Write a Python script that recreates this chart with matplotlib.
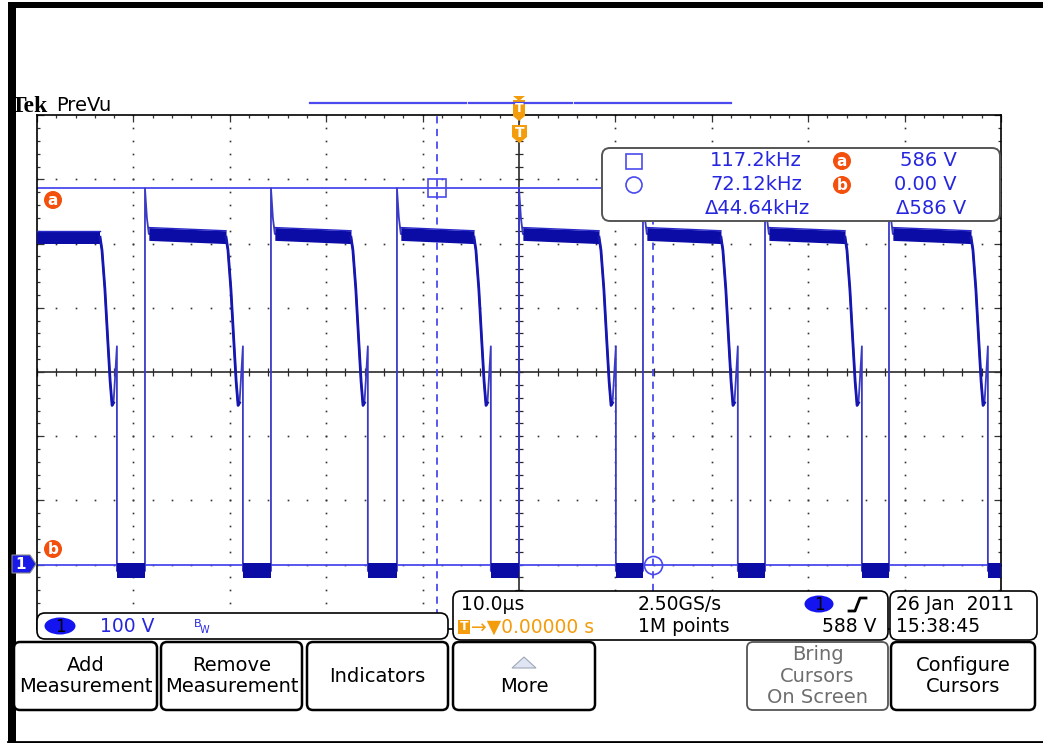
import numpy as np
import matplotlib
matplotlib.use("Agg")
import matplotlib.pyplot as plt
from matplotlib.patches import FancyBboxPatch, Polygon, Ellipse, Circle, Rectangle

W, H = 1043, 743

# scope settings (10 us/div, 100 V/div, trigger at centre, ground 3 div below centre)
t_lim = (-50.0, 50.0)
v_lim = (-100.0, 700.0)
t_div = 10.0
v_div = 100.0

# waveform (us / V)
rise_t = [-38.80, -25.73, -12.66, 0.0, 12.86, 25.52, 38.38]
fall_t = [-43.46, -30.39, -17.43, -4.67, 8.30, 20.95, 33.82, 46.89]
dip_dt = [0.0, 0.20, 0.50, 0.80, 1.05, 1.25, 1.40, 1.55, 1.75]
dip_v = [510, 490, 430, 350, 285, 248, 252, 290, 340]
spike_v = 586
ring_v = 540
plateau_v = (515, 510)      # start / end of flat top
bottom_v = -10
top_band = 10
bottom_band = (-21, 2)

# cursors
cursor_a_t, cursor_b_t = -8.533, 13.866
cursor_a_v, cursor_b_v = 586.0, 0.0

readout_rows = [("117.2kHz", "586 V"), ("72.12kHz", "0.00 V")]
readout_delta = ("\u039444.64kHz", "\u0394586 V")

buttons = [
    (14, 157, "Add\nMeasurement", "black"),
    (161, 302, "Remove\nMeasurement", "black"),
    (307, 448, "Indicators", "black"),
    (453, 595, "More", "black"),
    (747, 888, "Bring\nCursors\nOn Screen", "#6e6e6e"),
    (891, 1035, "Configure\nCursors", "black"),
]

BLUE = "#4a4aee"
TXT_BLUE = "#2626e0"
ORANGE = "#f39c0c"
RED_OR = "#f2500c"
TRACE = "#3a3ac4"
BAND = "#0b0ba6"

fig = plt.figure(figsize=(W / 100, H / 100), dpi=100)
fig.patch.set_facecolor("white")

# graticule area in pixels
gl, gr, gt, gb = 37, 1001, 115.2, 628.8
ax = fig.add_axes([gl / W, (H - gb) / H, (gr - gl) / W, (gb - gt) / H])
ax.set_xlim(*t_lim)
ax.set_ylim(*v_lim)
ax.set_facecolor("white")
for s in ax.spines.values():
    s.set_color("black")
    s.set_linewidth(1.2)
ax.set_xticks(np.arange(t_lim[0], t_lim[1] + 1, t_div))
ax.set_yticks(np.arange(v_lim[0], v_lim[1] + 1, v_div))
ax.set_xticks(np.arange(t_lim[0], t_lim[1] + 0.1, t_div / 5), minor=True)
ax.set_yticks(np.arange(v_lim[0], v_lim[1] + 0.1, v_div / 5), minor=True)
ax.tick_params(which="both", direction="in", top=True, right=True,
               labelbottom=False, labelleft=False, color="#333333", width=0.9)
ax.tick_params(which="major", length=5)
ax.tick_params(which="minor", length=2.5)

# dotted graticule
centre_t, centre_v = 0.0, 300.0
minor_t = np.arange(t_lim[0], t_lim[1] + 0.1, t_div / 5)
minor_v = np.arange(v_lim[0], v_lim[1] + 0.1, v_div / 5)
for gx in np.arange(t_lim[0] + t_div, t_lim[1], t_div):
    if gx != centre_t:
        ax.plot(np.full_like(minor_v, gx), minor_v, ls="none", marker="s",
                ms=1.2, color="#333333", mew=0)
for gy in np.arange(v_lim[0] + v_div, v_lim[1], v_div):
    if gy != centre_v:
        ax.plot(minor_t, np.full_like(minor_t, gy), ls="none", marker="s",
                ms=1.2, color="#333333", mew=0)
ax.axhline(centre_v, color="#2a2a2a", lw=1.2, zorder=1)
ax.axvline(centre_t, color="#2a2a2a", lw=1.2, zorder=1)
ax.plot(minor_t, np.full_like(minor_t, centre_v), ls="none", marker="|",
        ms=6, color="#2a2a2a", mew=0.9)
ax.plot(np.full_like(minor_v, centre_t), minor_v, ls="none", marker="_",
        ms=6, color="#2a2a2a", mew=0.9)

# cursors
ax.axhline(cursor_a_v, color=BLUE, lw=1.3, zorder=2)
ax.axhline(cursor_b_v, color=BLUE, lw=1.3, zorder=2)
ax.axvline(cursor_a_t, color=BLUE, lw=1.3, ls=(0, (4, 3)), zorder=2)
ax.axvline(cursor_b_t, color=BLUE, lw=1.3, ls=(0, (4, 3)), zorder=2,
           ymax=(gb - 222) / (gb - gt))
ax.plot([cursor_a_t], [cursor_a_v], marker="s", ms=13, mfc="none",
        mec=BLUE, mew=1.2, zorder=6)
ax.plot([cursor_b_t], [cursor_b_v], marker="o", ms=13, mfc="none",
        mec=BLUE, mew=1.2, zorder=6)

# build the trace
tt = [t_lim[0]]
vv = [plateau_v[1]]
plateaus = [(t_lim[0], fall_t[0])]
bottoms = []
dips = []
for i, f in enumerate(fall_t):
    dt = [f + d for d in dip_dt]
    dips.append((dt, dip_v))
    tt += dt
    vv += dip_v
    d_end = dt[-1]
    tt.append(d_end)
    vv.append(bottom_v)
    if i < len(rise_t):
        r = rise_t[i]
        bottoms.append((d_end, r))
        tt += [r, r, r + 0.2, r + 0.4]
        vv += [bottom_v, spike_v, ring_v, plateau_v[0]]
        plateaus.append((r + 0.4, fall_t[i + 1]))
    else:
        bottoms.append((d_end, t_lim[1]))
        tt.append(t_lim[1])
        vv.append(bottom_v)

ax.plot(tt, vv, color=TRACE, lw=1.3, zorder=3)
for a, b in plateaus:
    x = np.array([a, b])
    lvl = np.array(plateau_v) if a > t_lim[0] else np.array([plateau_v[1]] * 2)
    ax.fill_between(x, lvl - top_band, lvl + top_band, color=BAND, lw=0, zorder=4)
    ax.plot(x, lvl + top_band, color="#2828c8", lw=1, zorder=4)
for a, b in bottoms:
    ax.fill_between([a, b], [bottom_band[0]] * 2, [bottom_band[1]] * 2,
                    color=BAND, lw=0, zorder=4)
for dt, dv in dips:
    ax.plot(dt[:-2], dv[:-2], color="#1616b0", lw=2.0, zorder=4)

# ---------------- overlay: screen chrome ----------------
ui = fig.add_axes([0, 0, 1, 1], zorder=5)
ui.set_xlim(0, W)
ui.set_ylim(H, 0)
ui.axis("off")
ui.patch.set_alpha(0)


def rbox(x0, x1, y0, y1, ec="black", lw=1.6, r=6, fc="white"):
    ui.add_patch(FancyBboxPatch((x0, y0), x1 - x0, y1 - y0,
                                boxstyle=f"round,pad=0,rounding_size={r}",
                                fc=fc, ec=ec, lw=lw))


def badge(x, y, letter):
    ui.add_patch(Circle((x, y), 9, fc=RED_OR, ec="none"))
    ui.text(x, y + 0.5, letter, color="white", fontsize=11, fontweight="bold",
            ha="center", va="center")


# border
ui.add_patch(Rectangle((8, 2), W - 8, 6, fc="black", ec="none"))
ui.add_patch(Rectangle((8, 2), 8, 740, fc="black", ec="none"))
ui.plot([8, W], [741.5, 741.5], color="black", lw=2)

# Tek PreVu
ui.text(11, 112, "Tek", fontsize=17, fontweight="bold", family="Liberation Serif",
        ha="left", va="baseline")
ui.text(56, 111, "PreVu", fontsize=14, ha="left", va="baseline")

# record bar and trigger markers
for a, b in [(310, 466), (469, 572), (575, 731)]:
    ui.plot([a, b], [103, 103], color=BLUE, lw=1.6)
ui.add_patch(Polygon([[513, 96], [525, 96], [519, 101]], fc=ORANGE, ec="none"))
ui.add_patch(Polygon([[513, 100], [525, 100], [525, 116], [519, 121], [513, 116]],
                     fc=ORANGE, ec="none"))
ui.text(519, 109, "T", color="white", fontsize=9, fontweight="bold",
        ha="center", va="center")
ui.add_patch(Polygon([[512, 125], [527, 125], [527, 137], [519.5, 143], [512, 137]],
                     fc=ORANGE, ec="none"))
ui.text(519.5, 133, "T", color="white", fontsize=10, fontweight="bold",
        ha="center", va="center")

# cursor badges and ch1 ground marker
badge(53, 200, "a")
badge(53, 549, "b")
ui.add_patch(Polygon([[12, 555], [30, 555], [36, 564], [30, 573], [12, 573]],
                     fc="#1a1ae8", ec="#8a8a8a", lw=0.8))
ui.text(21, 564.5, "1", color="white", fontsize=11, fontweight="bold",
        ha="center", va="center")

# readout box
rbox(602, 1000, 148, 221, ec="#555555", lw=1.4, r=8)
ui.add_patch(Rectangle((626, 154), 16, 15, fc="none", ec=BLUE, lw=1.2))
ui.add_patch(Circle((634, 185), 8, fc="none", ec=BLUE, lw=1.2))
for i, (freq, volt) in enumerate(readout_rows):
    y = 161 + 24 * i
    ui.text(802, y, freq, color=TXT_BLUE, fontsize=14, ha="right", va="center")
    ui.text(957, y, volt, color=TXT_BLUE, fontsize=14, ha="right", va="center")
    badge(842, y, "ab"[i])
ui.text(810, 208, readout_delta[0], color=TXT_BLUE, fontsize=14, ha="right", va="center")
ui.text(966, 208, readout_delta[1], color=TXT_BLUE, fontsize=14, ha="right", va="center")

# channel status box
rbox(37, 448, 613, 639, lw=1.2, r=8)
ui.add_patch(Ellipse((60, 626), 31, 17, fc="#1414f0", ec="none"))
ui.text(60, 626.5, "1", color="black", fontsize=12, ha="center", va="center")
ui.text(100, 626, "100 V", color=TXT_BLUE, fontsize=13.5, ha="left", va="center")
ui.text(194, 624, "B", color=TXT_BLUE, fontsize=8, ha="left", va="center")
ui.text(200, 630, "W", color=TXT_BLUE, fontsize=7, ha="left", va="center")

# timebase / trigger box
rbox(453, 888, 591, 640, lw=1.2, r=8)
ui.text(461, 604, "10.0\u03bcs", fontsize=13.5, ha="left", va="center")
ui.text(638, 604, "2.50GS/s", fontsize=13.5, ha="left", va="center")
ui.add_patch(Ellipse((819, 604), 29, 17, fc="#1414f0", ec="none"))
ui.text(819, 604.5, "1", color="black", fontsize=12, ha="center", va="center")
ui.plot([849, 855, 860, 866], [611, 611, 598, 598], color="black", lw=2)
ui.add_patch(Rectangle((458, 620), 12, 14, fc=ORANGE, ec="none"))
ui.text(464, 627, "T", color="white", fontsize=9, fontweight="bold",
        ha="center", va="center")
ui.text(471, 627, "\u2192\u25bc0.00000 s", color=ORANGE, fontsize=13.5,
        ha="left", va="center")
ui.text(638, 627, "1M points", fontsize=13.5, ha="left", va="center")
ui.text(876, 627, "588 V", fontsize=13.5, ha="right", va="center")

# date box
rbox(890, 1037, 591, 640, lw=1.2, r=8)
ui.text(896, 604, "26 Jan  2011", fontsize=13.5, ha="left", va="center")
ui.text(896, 627, "15:38:45", fontsize=13.5, ha="left", va="center")

# soft buttons
for x0, x1, label, col in buttons:
    rbox(x0, x1, 642, 710, ec="black" if col == "black" else "#555555",
         lw=1.8 if col == "black" else 1.3, r=6)
    if label == "More":
        ui.add_patch(Polygon([[512, 668], [524, 657], [536, 668]],
                             fc="#dfe5f2", ec="#a0a8b8", lw=0.8))
        ui.text((x0 + x1) / 2, 687, label, fontsize=14, ha="center", va="center",
                color=col)
    else:
        ui.text((x0 + x1) / 2, 676, label, fontsize=14, ha="center", va="center",
                color=col, linespacing=1.15)

fig.savefig("out.png", dpi=100)
